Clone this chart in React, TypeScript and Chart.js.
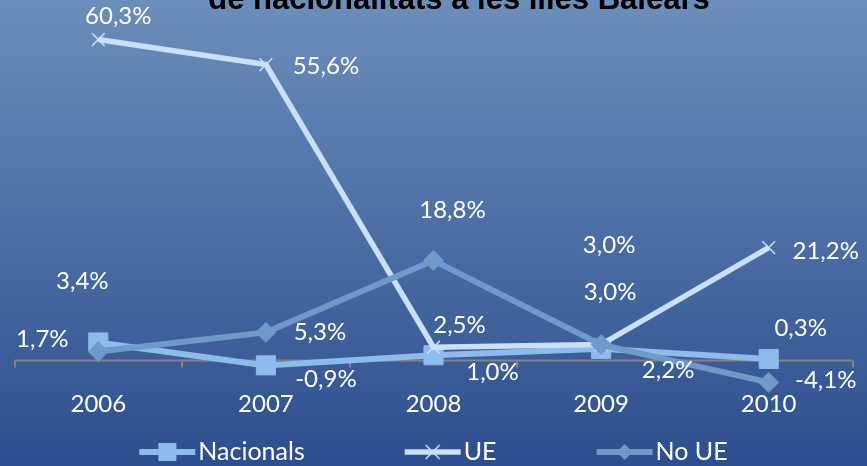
import React, { useEffect, useRef } from 'react';
import { Chart, registerables } from 'chart.js';

Chart.register(...registerables);

const years = ['2006', '2007', '2008', '2009', '2010'];
const nacionals = [3.4, -0.9, 1.0, 2.2, 0.3];
const ue = [60.3, 55.6, 2.5, 3.0, 21.2];
const noUE = [1.7, 5.3, 18.8, 3.0, -4.1];
const seriesNames = ['Nacionals', 'UE', 'No UE'];
const titleText = 'de nacionalitats a les Illes Balears';

// label placement offsets (px) relative to each point
const nacionalsLabelOffsets = [[-16, -61], [60, 14], [59, 17], [67, 21], [32, -31]];
const ueLabelOffsets = [[20, -23], [60, 2], [26, -22], [9, -52], [57, 4]];
const noUELabelOffsets = [[-56, -12], [54, 0], [19, -50], [8, -99], [57, -2]];

const colNac = '#8dbbec';
const colUE = '#cae0fa';
const colNoUE = '#6e99c8';
const FONT = 'Lato, "Open Sans", sans-serif';

const fmt = (v: number) => v.toFixed(1).replace('.', ',') + '%';

function drawMarker(ctx: CanvasRenderingContext2D, style: string, x: number, y: number, color: string) {
  ctx.save();
  if (style === 'rect') {
    ctx.fillStyle = color;
    ctx.fillRect(x - 9, y - 9, 18, 18);
  } else if (style === 'rectRot') {
    ctx.fillStyle = color;
    ctx.beginPath();
    ctx.moveTo(x, y - 8);
    ctx.lineTo(x + 8, y);
    ctx.lineTo(x, y + 8);
    ctx.lineTo(x - 8, y);
    ctx.closePath();
    ctx.fill();
  } else {
    ctx.strokeStyle = color;
    ctx.lineWidth = 1.5;
    ctx.beginPath();
    ctx.moveTo(x - 7, y - 7);
    ctx.lineTo(x + 7, y + 7);
    ctx.moveTo(x + 7, y - 7);
    ctx.lineTo(x - 7, y + 7);
    ctx.stroke();
  }
  ctx.restore();
}

const bgPlugin = {
  id: 'bg',
  beforeDraw(chart: any) {
    const { ctx, width, height } = chart;
    const g = ctx.createLinearGradient(0, 0, 0, height);
    g.addColorStop(0, '#6b8ebb');
    g.addColorStop(1, '#2c4e8e');
    ctx.save();
    ctx.fillStyle = g;
    ctx.fillRect(0, 0, width, height);
    // title (cropped at top)
    ctx.fillStyle = '#000';
    ctx.font = 'bold 31px "Liberation Sans", Arial, sans-serif';
    ctx.textAlign = 'center';
    ctx.textBaseline = 'alphabetic';
    ctx.fillText(titleText, 459, 9);
    ctx.restore();
  },
};

const axisPlugin = {
  id: 'zeroAxis',
  beforeDatasetsDraw(chart: any) {
    const { ctx, chartArea, scales } = chart;
    const y0 = scales.y.getPixelForValue(0);
    const n = years.length;
    const w = (chartArea.right - chartArea.left) / n;
    ctx.save();
    ctx.strokeStyle = '#8b8274';
    ctx.lineWidth = 2;
    ctx.beginPath();
    ctx.moveTo(chartArea.left, y0);
    ctx.lineTo(chartArea.right, y0);
    for (let k = 0; k <= n; k++) {
      const x = Math.round(chartArea.left + k * w);
      ctx.moveTo(x, y0);
      ctx.lineTo(x, y0 + 7);
    }
    ctx.stroke();
    ctx.restore();
  },
};

const labelPlugin = {
  id: 'dataLabels',
  afterDatasetsDraw(chart: any) {
    const { ctx } = chart;
    const offsets = [nacionalsLabelOffsets, ueLabelOffsets, noUELabelOffsets];
    ctx.save();
    ctx.fillStyle = '#ffffff';
    ctx.font = `24px ${FONT}`;
    ctx.textAlign = 'center';
    ctx.textBaseline = 'middle';
    chart.data.datasets.forEach((ds: any, i: number) => {
      const meta = chart.getDatasetMeta(i);
      meta.data.forEach((pt: any, j: number) => {
        const [dx, dy] = offsets[i][j];
        ctx.fillText(fmt(ds.data[j]), pt.x + dx, pt.y + dy);
      });
    });
    ctx.restore();
  },
};

const legendPlugin = {
  id: 'customLegend',
  afterDraw(chart: any) {
    const { ctx, chartArea } = chart;
    const y = 452;
    const lineLen = 56;
    const gapText = 3;
    const gapItems = 100;
    ctx.save();
    ctx.font = `25px ${FONT}`;
    const dss = chart.data.datasets;
    const widths = dss.map((ds: any) => lineLen + gapText + ctx.measureText(ds.label).width);
    const total = widths.reduce((a: number, b: number) => a + b, 0) + gapItems * (dss.length - 1);
    let x = (chartArea.left + chartArea.right) / 2 - total / 2;
    dss.forEach((ds: any, i: number) => {
      ctx.strokeStyle = ds.borderColor;
      ctx.lineWidth = ds.borderWidth;
      ctx.beginPath();
      ctx.moveTo(x, y);
      ctx.lineTo(x + lineLen, y);
      ctx.stroke();
      drawMarker(ctx, ds.pointStyle, x + lineLen / 2, y, ds.pointBorderColor);
      ctx.fillStyle = '#ffffff';
      ctx.textAlign = 'left';
      ctx.textBaseline = 'middle';
      ctx.fillText(ds.label, x + lineLen + gapText, y);
      x += widths[i] + gapItems;
    });
    ctx.restore();
  },
};

export default function App() {
  const ref = useRef<HTMLCanvasElement | null>(null);
  useEffect(() => {
    if (!ref.current) return;
    const chart = new Chart(ref.current, {
      type: 'line',
      data: {
        labels: years,
        datasets: [
          {
            label: seriesNames[0],
            data: nacionals,
            borderColor: colNac,
            backgroundColor: colNac,
            borderWidth: 6,
            pointStyle: 'rect',
            pointRadius: 13.5,
            pointBackgroundColor: colNac,
            pointBorderColor: colNac,
            pointBorderWidth: 1,
            tension: 0,
            order: 3,
            clip: false,
          },
          {
            label: seriesNames[1],
            data: ue,
            borderColor: colUE,
            backgroundColor: colUE,
            borderWidth: 5.5,
            pointStyle: 'crossRot',
            pointRadius: 9,
            pointBorderColor: colUE,
            pointBorderWidth: 1.5,
            tension: 0,
            order: 2,
            clip: false,
          },
          {
            label: seriesNames[2],
            data: noUE,
            borderColor: colNoUE,
            backgroundColor: colNoUE,
            borderWidth: 6,
            pointStyle: 'rectRot',
            pointRadius: 10,
            pointBackgroundColor: colNoUE,
            pointBorderColor: colNoUE,
            pointBorderWidth: 1,
            tension: 0,
            order: 1,
            clip: false,
          },
        ],
      },
      options: {
        animation: false,
        responsive: false,
        layout: { padding: { top: 14, left: 8, right: 11, bottom: 44 } },
        plugins: {
          legend: { display: false },
          title: { display: false },
          tooltip: { enabled: false },
        },
        scales: {
          x: {
            offset: true,
            grid: { display: false, drawTicks: false },
            border: { display: false },
            ticks: { color: '#ffffff', font: { family: FONT, size: 24 }, padding: 3 },
          },
          y: {
            display: false,
            min: -5,
            max: 65,
          },
        },
      },
      plugins: [bgPlugin, axisPlugin, labelPlugin, legendPlugin],
    });
    return () => chart.destroy();
  }, []);
  return (
    <div style={{ position: 'absolute', left: 0, top: 0, width: 867, height: 466 }}>
      <canvas ref={ref} width={867} height={466} style={{ display: 'block' }} />
    </div>
  );
}
